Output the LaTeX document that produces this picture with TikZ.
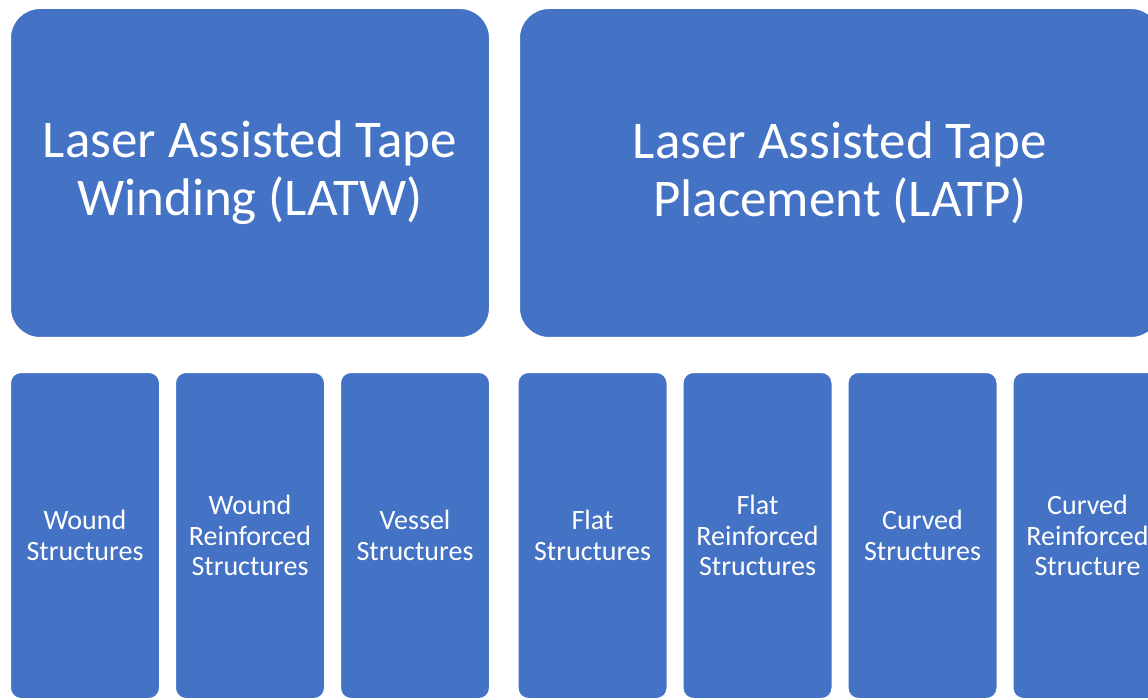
\documentclass[tikz,border=0pt]{standalone}
\usepackage{fontspec}
\setmainfont{Carlito}
\definecolor{tileblue}{HTML}{4472C4}
\tikzset{
  tile/.style={draw=white, line width=2pt, fill=tileblue, text=white, align=center, inner sep=0pt},
  bigtile/.style={tile, rounded corners=30pt, minimum height=330pt,
    font=\fontsize{53}{58}\selectfont},
  smalltile/.style={tile, rounded corners=11pt, minimum width=150pt, minimum height=327pt,
    font=\fontsize{28}{30.5}\selectfont},
}
\begin{document}
\begin{tikzpicture}[x=1pt,y=-1pt]
  \useasboundingbox (0,0) rectangle (1148,700);
  \clip (0,0) rectangle (1148,700);
  \fill[white] (0,0) rectangle (1148,700);
  % top row: process families
  \node[bigtile, minimum width=480pt] (latw) at (250,173) {Laser Assisted Tape\\Winding (LATW)};
  \node[bigtile, minimum width=642pt] (latp) at (840,173) {Laser Assisted Tape\\Placement (LATP)};
  % bottom row: structure types
  \node[smalltile] (wound)  at (85,535.5)   {Wound\\Structures};
  \node[smalltile] (woundr) at (250,535.5)  {Wound\\Reinforced\\Structures};
  \node[smalltile] (vessel) at (415,535.5)  {Vessel\\Structures};
  \node[smalltile] (flat)   at (592.5,535.5) {Flat\\Structures};
  \node[smalltile] (flatr)  at (757.5,535.5) {Flat\\Reinforced\\Structures};
  \node[smalltile] (curved) at (922.5,535.5) {Curved\\Structures};
  \node[smalltile] (curvr)  at (1087.5,535.5) {Curved\\Reinforced\\Structure};
\end{tikzpicture}
\end{document}
